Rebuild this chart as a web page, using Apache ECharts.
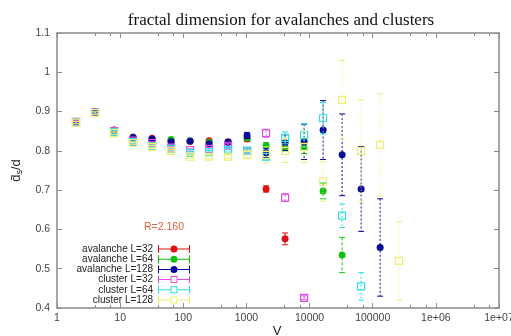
<!DOCTYPE html>
<html><head><meta charset="utf-8">
<script src="https://cdn.jsdelivr.net/npm/echarts@6/dist/echarts.min.js"></script>
<style>html,body{margin:0;padding:0;background:#fff}#c{width:511px;height:336px}</style>
</head><body><div id="c"></div>
<script>
// ---- data ----
const sizes = [2,4,8,16,32,64,128,256,512,1024,2048,4096,8192,16384,32768,65536,131072,262144];
const seriesNames = ['avalanche L=32','avalanche L=64','avalanche L=128','cluster L=32','cluster L=64','cluster L=128'];
const aval32     = [0.874,0.899,0.853,0.835,0.832,0.825,0.824,0.826,0.823,0.830,0.703,0.576,null,null,null,null,null,null];
const aval32Err  = [0.003,0.003,0.003,0.003,0.003,0.003,0.004,0.004,0.005,0.006,0.008,0.015,null,null,null,null,null,null];
const aval64     = [0.874,0.899,0.853,0.834,0.829,0.829,0.825,0.822,0.822,0.833,0.813,0.810,0.808,0.698,0.535,null,null,null];
const aval64Err  = [0.003,0.003,0.003,0.003,0.003,0.003,0.003,0.003,0.004,0.005,0.008,0.010,0.015,0.020,0.045,null,null,null];
const aval128    = [0.873,0.898,0.852,0.834,0.830,0.823,0.825,0.818,0.822,0.839,0.795,0.821,0.823,0.853,0.790,0.703,0.554,null];
const aval128Err = [0.003,0.003,0.003,0.003,0.003,0.003,0.003,0.004,0.005,0.008,0.012,0.020,0.045,0.075,0.104,0.108,0.124,null];
const clus32     = [0.874,0.898,0.850,0.826,0.820,0.808,0.802,0.805,0.813,0.800,0.845,0.681,0.426,null,null,null,null,null];
const clus32Err  = [0.003,0.003,0.003,0.003,0.003,0.003,0.003,0.004,0.005,0.005,0.010,0.010,0.005,null,null,null,null,null];
const clus64     = [0.872,0.897,0.848,0.822,0.812,0.805,0.795,0.797,0.802,0.800,0.785,0.833,0.840,0.883,0.635,0.455,null,null];
const clus64Err  = [0.003,0.003,0.003,0.003,0.003,0.003,0.003,0.004,0.005,0.005,0.008,0.015,0.030,0.040,0.030,0.035,null,null];
const clus128    = [0.872,0.896,0.845,0.820,0.810,0.800,0.785,0.785,0.785,0.790,0.790,0.800,0.810,0.722,0.930,0.800,0.815,0.520];
const clus128Err = [0.003,0.003,0.003,0.003,0.003,0.003,0.004,0.005,0.005,0.010,0.020,0.030,0.040,0.050,0.100,0.130,0.130,0.100];
const xTickLabels = ['1','10','100','1000','10000','100000','1e+06','1e+07'];
const yTickLabels = ['0.4','0.5','0.6','0.7','0.8','0.9','1','1.1'];
const titleText = 'fractal dimension for avalanches and clusters';
const xAxisTitle = 'V';
const annotation = 'R=2.160';

// ---- styling ----
const colors = ['#e01010','#10c010','#0a0a9a','#e050e0','#30dede','#eeee70'];
const kinds = ['circle','circle','circle','square','square','square'];
const dashes = [null,[3,2],[2,2],[3,2],[2,2],[1,2]];
const values = [aval32,aval64,aval128,clus32,clus64,clus128];
const errs = [aval32Err,aval64Err,aval128Err,clus32Err,clus64Err,clus128Err];

function buildData(v, e){
  const out = [];
  for (let i=0;i<sizes.length;i++) if (v[i]!=null) out.push([sizes[i], v[i], e[i]]);
  return out;
}
function makeRender(kind, color, dash){
  return function(params, api){
    const x = api.value(0), y = api.value(1), e = api.value(2);
    const p = api.coord([x,y]);
    const hi = api.coord([x,y+e]), lo = api.coord([x,y-e]);
    const cap = 3;
    const ch = [
      {type:'line', shape:{x1:p[0],y1:hi[1],x2:p[0],y2:lo[1]}, style:{stroke:color,lineWidth:1,lineDash:dash}},
      {type:'line', shape:{x1:p[0]-cap,y1:hi[1],x2:p[0]+cap,y2:hi[1]}, style:{stroke:color,lineWidth:1}},
      {type:'line', shape:{x1:p[0]-cap,y1:lo[1],x2:p[0]+cap,y2:lo[1]}, style:{stroke:color,lineWidth:1}}
    ];
    if (kind==='circle') ch.push({type:'circle', shape:{cx:p[0],cy:p[1],r:3.5}, style:{fill:color}});
    else ch.push({type:'rect', shape:{x:p[0]-3.5,y:p[1]-3.5,width:7,height:7}, style:{fill:'none',stroke:color,lineWidth:1.2}});
    return {type:'group', children:ch};
  };
}
const iconCircle = 'path://M0,3.5L32,3.5L32,4.5L0,4.5Z M0,0L1,0L1,8L0,8Z M31,0L32,0L32,8L31,8Z M12.5,4A3.5,3.5,0,1,1,19.5,4A3.5,3.5,0,1,1,12.5,4Z';
const iconSquare = 'path://M0,3.5L12.5,3.5L12.5,4.5L0,4.5Z M19.5,3.5L32,3.5L32,4.5L19.5,4.5Z M0,0L1,0L1,8L0,8Z M31,0L32,0L32,8L31,8Z M12.5,0.5L19.5,0.5L19.5,7.5L12.5,7.5Z M13.5,1.5L13.5,6.5L18.5,6.5L18.5,1.5Z';

const axisCol = '#8a8a8a';
const labelStyle = {fontFamily:'Liberation Sans', fontSize:10.5, color:'#444'};
const chart = echarts.init(document.getElementById('c'), null, {renderer:'canvas'});
chart.setOption({
  animation:false,
  backgroundColor:'#fff',
  grid:{left:57,right:12,top:33,bottom:28,outerBoundsMode:'none',containLabel:false},
  xAxis:[
    {type:'log', logBase:10, min:1, max:1e7, splitNumber:7,
     axisLine:{lineStyle:{color:axisCol,width:1.5}},
     axisTick:{inside:true,length:5,lineStyle:{color:axisCol}},
     minorTick:{show:true,splitNumber:3,length:3,lineStyle:{color:axisCol}},
     splitLine:{show:false},
     axisLabel:Object.assign({margin:5, formatter:function(v){return xTickLabels[Math.round(Math.log10(v))];}}, labelStyle)},
    {type:'log', logBase:10, min:1, max:1e7, splitNumber:7, position:'top',
     axisLine:{lineStyle:{color:axisCol,width:1.5}},
     axisTick:{inside:true,length:5,lineStyle:{color:axisCol}},
     minorTick:{show:true,splitNumber:3,length:3,lineStyle:{color:axisCol}},
     splitLine:{show:false}, axisLabel:{show:false}}
  ],
  yAxis:[
    {type:'value', min:0.4, max:1.1, interval:0.1,
     name:'{d|d\u0304}{s|s}{d|/d}', nameLocation:'middle', nameGap:28, nameRotate:90,
     nameTextStyle:{rich:{d:{fontFamily:'Liberation Sans',fontSize:13,color:'#222',lineHeight:16},
                         s:{fontFamily:'Liberation Sans',fontSize:9,color:'#222',lineHeight:16,verticalAlign:'bottom',padding:[5,0,0,0]}}},
     axisLine:{show:true,lineStyle:{color:axisCol,width:1.5}},
     axisTick:{show:true,inside:true,length:5,lineStyle:{color:axisCol}},
     splitLine:{show:false},
     axisLabel:Object.assign({margin:7, formatter:function(v){return yTickLabels[Math.round((v-0.4)/0.1)];}}, labelStyle)},
    {type:'value', min:0.4, max:1.1, interval:0.1, position:'right',
     axisLine:{show:true,lineStyle:{color:axisCol,width:1.5}},
     axisTick:{show:true,inside:true,length:5,lineStyle:{color:axisCol}},
     splitLine:{show:false}, axisLabel:{show:false}}
  ],
  legend:{
    orient:'vertical', align:'right', right:321, top:244, padding:0,
    itemWidth:32, itemHeight:8, itemGap:0.2, selectedMode:false,
    textStyle:{fontFamily:'Liberation Sans', fontSize:10, color:'#222'},
    data: seriesNames.map(function(n,i){return {name:n, icon: kinds[i]==='circle'?iconCircle:iconSquare, itemStyle:{color:colors[i]}};})
  },
  graphic:[
    {type:'text', x:281, y:21, style:{text:titleText, align:'center', verticalAlign:'middle', font:'17px "Liberation Serif"', fill:'#111'}},
    {type:'text', x:164, y:227, style:{text:annotation, align:'center', verticalAlign:'middle', font:'10.5px "Liberation Sans"', fill:'#e2603e'}},
    {type:'text', x:277, y:325, style:{text:xAxisTitle, align:'center', verticalAlign:'top', font:'13px "Liberation Sans"', fill:'#222'}}
  ],
  series: seriesNames.map(function(n,i){
    return {type:'custom', name:n, coordinateSystem:'cartesian2d', xAxisIndex:0, yAxisIndex:0,
      encode:{x:0,y:1}, itemStyle:{color:colors[i]},
      renderItem: makeRender(kinds[i], colors[i], dashes[i]),
      data: buildData(values[i], errs[i])};
  })
});
</script></body></html>
